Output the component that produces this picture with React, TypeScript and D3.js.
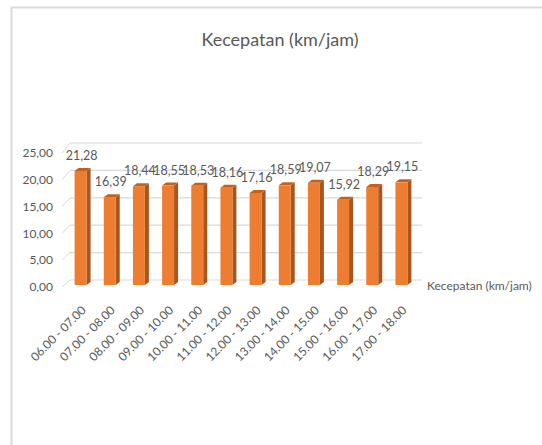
import React from "react";
import * as d3 from "d3";

const categories = [
  "06.00 - 07.00", "07.00 - 08.00", "08.00 - 09.00", "09.00 - 10.00",
  "10.00 - 11.00", "11.00 - 12.00", "12.00 - 13.00", "13.00 - 14.00",
  "14.00 - 15.00", "15.00 - 16.00", "16.00 - 17.00", "17.00 - 18.00",
];
const speeds = [21.28, 16.39, 18.44, 18.55, 18.53, 18.16, 17.16, 18.59, 19.07, 15.92, 18.29, 19.15];
const yTicks = [0, 5, 10, 15, 20, 25];
const title = "Kecepatan (km/jam)";
const seriesName = "Kecepatan (km/jam)";

const W = 542;
const H = 445;
const FONT = "Lato, 'Open Sans', sans-serif";
const TEXT = "#595959";
const GRID = "#d9d9d9";
const DX = 4;
const DY = 3;

const fmt = (v: number) => v.toFixed(2).replace(".", ",");

export default function App() {
  const x = d3.scaleBand<string>().domain(categories).range([66, 416]).paddingInner(0.59).paddingOuter(0.295);
  const yFront = d3.scaleLinear().domain([0, 25]).range([285, 151]);
  const yBack = d3.scaleLinear().domain([0, 25]).range([280, 143]);
  const yLabel = d3.scaleLinear().domain([0, 25]).range([287, 153]);
  const bw = x.bandwidth();

  return (
    <svg width={W} height={H} style={{ position: "absolute", left: 0, top: 0, background: "#fff" }}>
      <line x1={11} y1={7.5} x2={W} y2={7.5} stroke="#dadada" strokeWidth={2} />
      <line x1={11.5} y1={7} x2={11.5} y2={H} stroke="#dadada" strokeWidth={2} />

      <text x={280} y={46} textAnchor="middle" fontFamily={FONT} fontSize={18} fill={TEXT}>{title}</text>

      {yTicks.map((t) => (
        <g key={t}>
          <line x1={62} y1={yFront(t) + 2} x2={70} y2={yBack(t)} stroke={GRID} strokeWidth={1} />
          <line x1={70} y1={yBack(t)} x2={422} y2={yBack(t)} stroke={GRID} strokeWidth={1.2} />
          <text x={53} y={yLabel(t)} dy="0.35em" textAnchor="end" fontFamily={FONT} fontSize={12} fill={TEXT}>{fmt(t)}</text>
        </g>
      ))}

      {speeds.map((v, i) => {
        const x0 = x(categories[i])!;
        const top = yFront(v);
        const bot = yFront(0);
        return (
          <g key={i}>
            <polygon points={`${x0 + bw},${top} ${x0 + bw + DX},${top - DY} ${x0 + bw + DX},${bot - DY} ${x0 + bw},${bot}`} fill="#A9561C" />
            <polygon points={`${x0},${top} ${x0 + DX},${top - DY} ${x0 + bw + DX},${top - DY} ${x0 + bw},${top}`} fill="#C4601D" />
            <rect x={x0} y={top} width={bw} height={bot - top} fill="#ED7D31" />
            <text x={x0 + bw / 2 + 1} y={top - DY - 8} textAnchor="middle" fontFamily={FONT} fontSize={12.5} fill={TEXT}>{fmt(v)}</text>
          </g>
        );
      })}

      {categories.map((c) => {
        const cx = x(c)! + bw / 2 + 6;
        const cy = 311;
        return (
          <text key={c} x={cx} y={cy} transform={`rotate(-45 ${cx} ${cy})`} textAnchor="end" fontFamily={FONT} fontSize={12} fill={TEXT}>{c}</text>
        );
      })}

      <text x={427} y={286} dy="0.35em" fontFamily={FONT} fontSize={12} fill={TEXT}>{seriesName}</text>
    </svg>
  );
}
